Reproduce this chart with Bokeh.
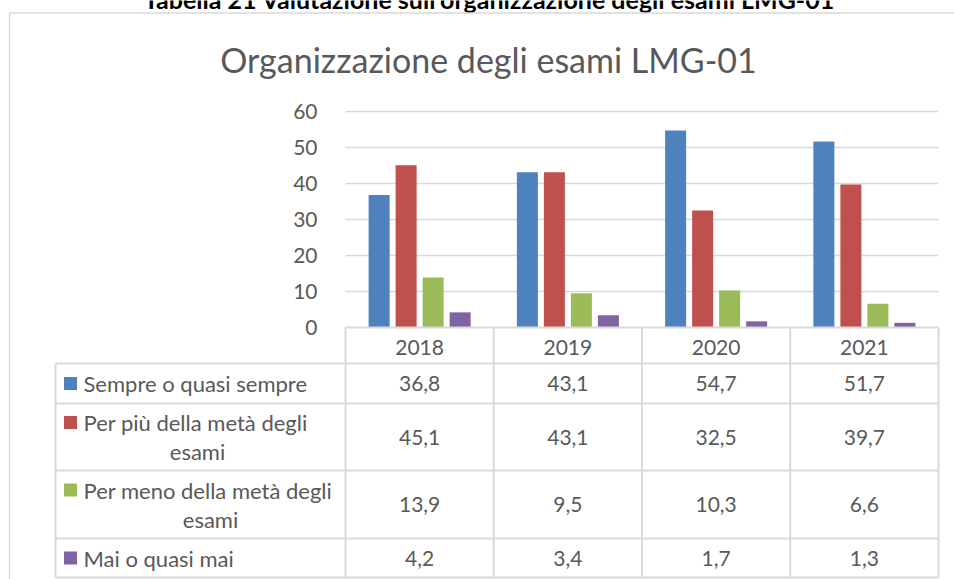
from bokeh.plotting import figure
from bokeh.models import Range1d, LinearAxis, FixedTicker
from bokeh.core.properties import value
from bokeh.embed import file_html
from bokeh.resources import INLINE

# ---------------- data ----------------
years = ["2018", "2019", "2020", "2021"]
series_labels = [
    ["Sempre o quasi sempre"],
    ["Per più della metà degli", "esami"],
    ["Per meno della metà degli", "esami"],
    ["Mai o quasi mai"],
]
sempre = [36.8, 43.1, 54.7, 51.7]
piu_meta = [45.1, 43.1, 32.5, 39.7]
meno_meta = [13.9, 9.5, 10.3, 6.6]
mai = [4.2, 3.4, 1.7, 1.3]
y_ticks = [0, 10, 20, 30, 40, 50, 60]
chart_title = "Organizzazione degli esami LMG-01"
page_heading = "Tabella 21 Valutazione sull'organizzazione degli esami LMG-01"

series = [sempre, piu_meta, meno_meta, mai]
colors = ["#4f81bd", "#c0504d", "#9bbb59", "#8064a2"]

FONT = "Lato"
TXT = "#595959"
GRID = "#d9d9d9"
NUM_SIZE = "21px"
LBL_SIZE = "22px"

# ---------------- layout helpers (reference pixel geometry) ----------------
PX_Y = 3.6        # pixels per value unit
PX_X = 148.25     # pixels per category column
X0, Y0 = 345, 327 # pixel position of (0, 0)


def dx(px):
    return (px - X0) / PX_X


def dy(py):
    return (Y0 - py) / PX_Y


W, H = 954, 579
p = figure(width=W, height=H, output_backend="svg", toolbar_location=None,
           x_axis_type=None, y_axis_type=None,
           x_range=Range1d(dx(0), dx(W)), y_range=Range1d(dy(H), dy(0)),
           min_border=0, min_border_left=0, min_border_right=0,
           min_border_top=0, min_border_bottom=0)
p.outline_line_color = None
p.xgrid.visible = False
p.ygrid.visible = False
p.background_fill_color = "white"
p.border_fill_color = "white"

# page heading above the chart (cut by the top edge, as in the source page)
p.text(x=[dx(489)], y=[dy(-2)], text=[page_heading],
       text_align="center", text_baseline="alphabetic",
       text_font=value(FONT), text_font_style="bold", text_font_size="25px",
       text_color="#000000")

# chart outer border (left + top)
p.segment(x0=[dx(9), dx(9)], y0=[dy(12.5), dy(12.5)],
          x1=[dx(9), dx(W + 5)], y1=[dy(700), dy(12.5)],
          line_color=GRID, line_width=1.5)

# gridlines
n = len(years)
p.segment(x0=[0] * (len(y_ticks) - 1), y0=y_ticks[1:],
          x1=[n] * (len(y_ticks) - 1), y1=y_ticks[1:],
          line_color=GRID, line_width=1.5)

# bars
bar_w = 21 / PX_X
step = 27 / PX_X
for k, (vals, col) in enumerate(zip(series, colors)):
    xs = [i + 0.5 + (k - 1.5) * step for i in range(n)]
    p.vbar(x=xs, top=vals, bottom=0, width=bar_w, fill_color=col,
           line_color=None)

# y axis
yax = LinearAxis(fixed_location=0, ticker=FixedTicker(ticks=y_ticks))
yax.axis_line_color = None
yax.major_tick_line_color = None
yax.minor_tick_line_color = None
yax.major_label_standoff = 22
yax.major_label_text_font = FONT
yax.major_label_text_font_size = NUM_SIZE
yax.major_label_text_color = TXT
p.add_layout(yax, "left")

# x axis (years, header row of the data table)
xax = LinearAxis(fixed_location=0,
                 ticker=FixedTicker(ticks=[i + 0.5 for i in range(n)]))
xax.major_label_overrides = {i + 0.5: y for i, y in enumerate(years)}
xax.axis_line_color = None
xax.major_tick_line_color = None
xax.minor_tick_line_color = None
xax.major_label_standoff = 6
xax.major_label_text_font = FONT
xax.major_label_text_font_size = NUM_SIZE
xax.major_label_text_color = TXT
p.add_layout(xax, "below")

# ---------------- data table ----------------
row_edges = [327, 363, 403, 470, 538, 577]
left_px = 55
xl = dx(left_px)
# vertical lines
p.segment(x0=list(range(n + 1)), y0=[dy(row_edges[0])] * (n + 1),
          x1=list(range(n + 1)), y1=[dy(row_edges[-1])] * (n + 1),
          line_color=GRID, line_width=2)
p.segment(x0=[xl], y0=[dy(row_edges[1])], x1=[xl], y1=[dy(row_edges[-1])],
          line_color=GRID, line_width=2)
# horizontal lines
p.segment(x0=[0], y0=[dy(row_edges[0])], x1=[n], y1=[dy(row_edges[0])],
          line_color=GRID, line_width=2)
p.segment(x0=[xl] * 5, y0=[dy(e) for e in row_edges[1:]],
          x1=[n] * 5, y1=[dy(e) for e in row_edges[1:]],
          line_color=GRID, line_width=2)

second_line_cx = {1: 197, 2: 210}
for r, (vals, col, lines) in enumerate(zip(series, colors, series_labels)):
    top, bot = row_edges[r + 1], row_edges[r + 2]
    cy = (top + bot) / 2
    # values
    p.text(x=[i + 0.5 for i in range(n)], y=[dy(cy)] * n,
           text=[f"{v:.1f}".replace(".", ",") for v in vals],
           text_align="center", text_baseline="middle",
           text_font=value(FONT), text_font_size=NUM_SIZE, text_color=TXT)
    if len(lines) == 1:
        ly = cy
    else:
        ly = cy - 14.5
    p.scatter(x=[dx(70)], y=[dy(ly)], marker="square", size=13,
              fill_color=col, line_color=None)
    p.text(x=[dx(83)], y=[dy(ly)], text=[lines[0]],
           text_align="left", text_baseline="middle",
           text_font=value(FONT), text_font_size=LBL_SIZE, text_color=TXT)
    if len(lines) > 1:
        p.text(x=[dx(second_line_cx[r])], y=[dy(cy + 14.5)], text=[lines[1]],
               text_align="center", text_baseline="middle",
               text_font=value(FONT), text_font_size=LBL_SIZE, text_color=TXT)

# chart title
p.text(x=[dx(488)], y=[dy(59)], text=[chart_title],
       text_align="center", text_baseline="middle",
       text_font=value(FONT), text_font_size="34px", text_color=TXT)

open("out.html", "w").write(file_html(p, INLINE))
